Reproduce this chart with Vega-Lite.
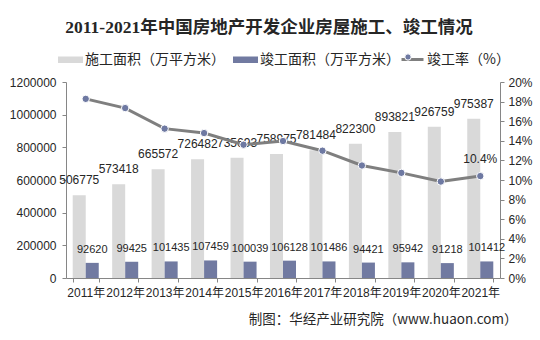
{
  "$schema": "https://vega.github.io/schema/vega-lite/v6.json",
  "width": 434,
  "height": 196,
  "autosize": {"type": "none"},
  "padding": {"left": 66, "top": 82, "right": 40, "bottom": 62},
  "background": "white",
  "title": {
    "text": "2011-2021年中国房地产开发企业房屋施工、竣工情况",
    "font": "Liberation Serif, Noto Sans CJK SC",
    "fontSize": 17.5,
    "fontWeight": "bold",
    "color": "#262626",
    "anchor": "middle",
    "dx": -14,
    "offset": 11
  },
  "datasets": {
    "bars": [
      {"year": "2011年", "series": "施工面积（万平方米）", "value": 506775},
      {"year": "2012年", "series": "施工面积（万平方米）", "value": 573418},
      {"year": "2013年", "series": "施工面积（万平方米）", "value": 665572},
      {"year": "2014年", "series": "施工面积（万平方米）", "value": 726482},
      {"year": "2015年", "series": "施工面积（万平方米）", "value": 735693},
      {"year": "2016年", "series": "施工面积（万平方米）", "value": 758975},
      {"year": "2017年", "series": "施工面积（万平方米）", "value": 781484},
      {"year": "2018年", "series": "施工面积（万平方米）", "value": 822300},
      {"year": "2019年", "series": "施工面积（万平方米）", "value": 893821},
      {"year": "2020年", "series": "施工面积（万平方米）", "value": 926759},
      {"year": "2021年", "series": "施工面积（万平方米）", "value": 975387},
      {"year": "2011年", "series": "竣工面积（万平方米）", "value": 92620},
      {"year": "2012年", "series": "竣工面积（万平方米）", "value": 99425},
      {"year": "2013年", "series": "竣工面积（万平方米）", "value": 101435},
      {"year": "2014年", "series": "竣工面积（万平方米）", "value": 107459},
      {"year": "2015年", "series": "竣工面积（万平方米）", "value": 100039},
      {"year": "2016年", "series": "竣工面积（万平方米）", "value": 106128},
      {"year": "2017年", "series": "竣工面积（万平方米）", "value": 101486},
      {"year": "2018年", "series": "竣工面积（万平方米）", "value": 94421},
      {"year": "2019年", "series": "竣工面积（万平方米）", "value": 95942},
      {"year": "2020年", "series": "竣工面积（万平方米）", "value": 91218},
      {"year": "2021年", "series": "竣工面积（万平方米）", "value": 101412}
    ],
    "rate": [
      {"year": "2011年", "rate": 18.28, "label": ""},
      {"year": "2012年", "rate": 17.34, "label": ""},
      {"year": "2013年", "rate": 15.24, "label": ""},
      {"year": "2014年", "rate": 14.79, "label": ""},
      {"year": "2015年", "rate": 13.6, "label": ""},
      {"year": "2016年", "rate": 13.98, "label": ""},
      {"year": "2017年", "rate": 12.99, "label": ""},
      {"year": "2018年", "rate": 11.48, "label": ""},
      {"year": "2019年", "rate": 10.73, "label": ""},
      {"year": "2020年", "rate": 9.84, "label": ""},
      {"year": "2021年", "rate": 10.4, "label": "10.4%"}
    ]
  },
  "encoding": {
    "x": {
      "field": "year",
      "type": "nominal",
      "scale": {"paddingInner": 0.34, "paddingOuter": 0.17},
      "axis": {
        "title": "制图：华经产业研究院（www.huaon.com）",
        "titleFont": "Noto Sans CJK SC",
        "titleFontSize": 13.5,
        "titleFontWeight": "normal",
        "titleColor": "#262626",
        "titleX": 451,
        "titleY": 41,
        "titleAlign": "right",
        "titleBaseline": "middle",
        "labelAngle": 0,
        "labelOverlap": false,
        "labelFont": "Liberation Sans, Noto Sans CJK SC",
        "labelColor": "#262626",
        "labelPadding": 5,
        "tickBand": "extent",
        "tickSize": 4
      }
    }
  },
  "layer": [
    {
      "data": {"name": "bars"},
      "encoding": {
        "xOffset": {"field": "series", "type": "nominal", "scale": {"domain": ["施工面积（万平方米）", "竣工面积（万平方米）"], "paddingInner": 0, "paddingOuter": 0}},
        "y": {
          "field": "value",
          "type": "quantitative",
          "scale": {"domain": [0, 1200000], "nice": false},
          "axis": {
            "title": null,
            "orient": "left",
            "values": [0, 200000, 400000, 600000, 800000, 1000000, 1200000],
            "format": "d",
            "labelPadding": 6
          }
        }
      },
      "layer": [
        {
          "mark": {"type": "bar"},
          "encoding": {
            "color": {
              "field": "series",
              "type": "nominal",
              "scale": {"domain": ["施工面积（万平方米）", "竣工面积（万平方米）"], "range": ["#d9d9d9", "#717aa1"]},
              "legend": {
                "title": null,
                "orient": "none",
                "direction": "horizontal",
                "legendX": -8,
                "legendY": -35,
                "symbolType": "M-1,-0.26H1V0.26H-1Z",
                "symbolSize": 625,
                "symbolStrokeWidth": 0,
                "labelOffset": 2,
                "labelFontSize": 14,
                "columnPadding": 8
              }
            }
          }
        },
        {
          "mark": {"type": "text", "baseline": "bottom", "dy": -8, "font": "Liberation Sans", "color": "#262626"},
          "encoding": {
            "text": {"field": "value", "type": "quantitative", "format": "d"},
            "size": {"field": "series", "type": "nominal", "scale": {"domain": ["施工面积（万平方米）", "竣工面积（万平方米）"], "range": [12, 11]}, "legend": null}
          }
        }
      ]
    },
    {
      "data": {"name": "rate"},
      "encoding": {
        "y": {
          "field": "rate",
          "type": "quantitative",
          "scale": {"domain": [0, 20], "nice": false},
          "axis": {
            "title": null,
            "orient": "right",
            "values": [0, 2, 4, 6, 8, 10, 12, 14, 16, 18, 20],
            "labelExpr": "datum.value + '%'",
            "labelPadding": 4
          }
        }
      },
      "layer": [
        {
          "mark": {"type": "line", "strokeWidth": 3},
          "encoding": {
            "stroke": {
              "datum": "竣工率（%）",
              "scale": {"range": ["#7f7f7f"]},
              "legend": {
                "title": null,
                "orient": "none",
                "legendX": 334,
                "legendY": -35,
                "symbolType": "stroke",
                "symbolSize": 484,
                "symbolStrokeWidth": 3,
                "labelOffset": 2,
                "labelFontSize": 14
              }
            }
          }
        },
        {
          "mark": {"type": "point", "filled": true, "size": 55, "stroke": "white", "strokeWidth": 1, "opacity": 1},
          "encoding": {
            "fill": {
              "datum": "竣工率",
              "scale": {"range": ["#6e79a2"]},
              "legend": {
                "title": null,
                "orient": "none",
                "legendX": 338,
                "legendY": -29,
                "symbolType": "circle",
                "symbolSize": 40,
                "symbolStrokeColor": "white",
                "symbolStrokeWidth": 1,
                "labelOpacity": 0,
                "labelFontSize": 1
              }
            }
          }
        },
        {
          "transform": [{"filter": "datum.label != ''"}],
          "mark": {"type": "text", "baseline": "bottom", "dy": -10, "fontSize": 12, "font": "Liberation Sans", "color": "#262626"},
          "encoding": {"text": {"field": "label", "type": "nominal"}}
        }
      ]
    }
  ],
  "resolve": {"scale": {"y": "independent", "color": "independent"}},
  "config": {
    "view": {"stroke": null},
    "axis": {
      "labelFont": "Liberation Sans",
      "labelFontSize": 12,
      "labelColor": "#262626",
      "domainColor": "#868686",
      "tickColor": "#868686",
      "grid": false,
      "tickSize": 4
    },
    "legend": {
      "labelFont": "Noto Sans CJK SC",
      "labelFontSize": 13.5,
      "labelColor": "#262626"
    }
  }
}
